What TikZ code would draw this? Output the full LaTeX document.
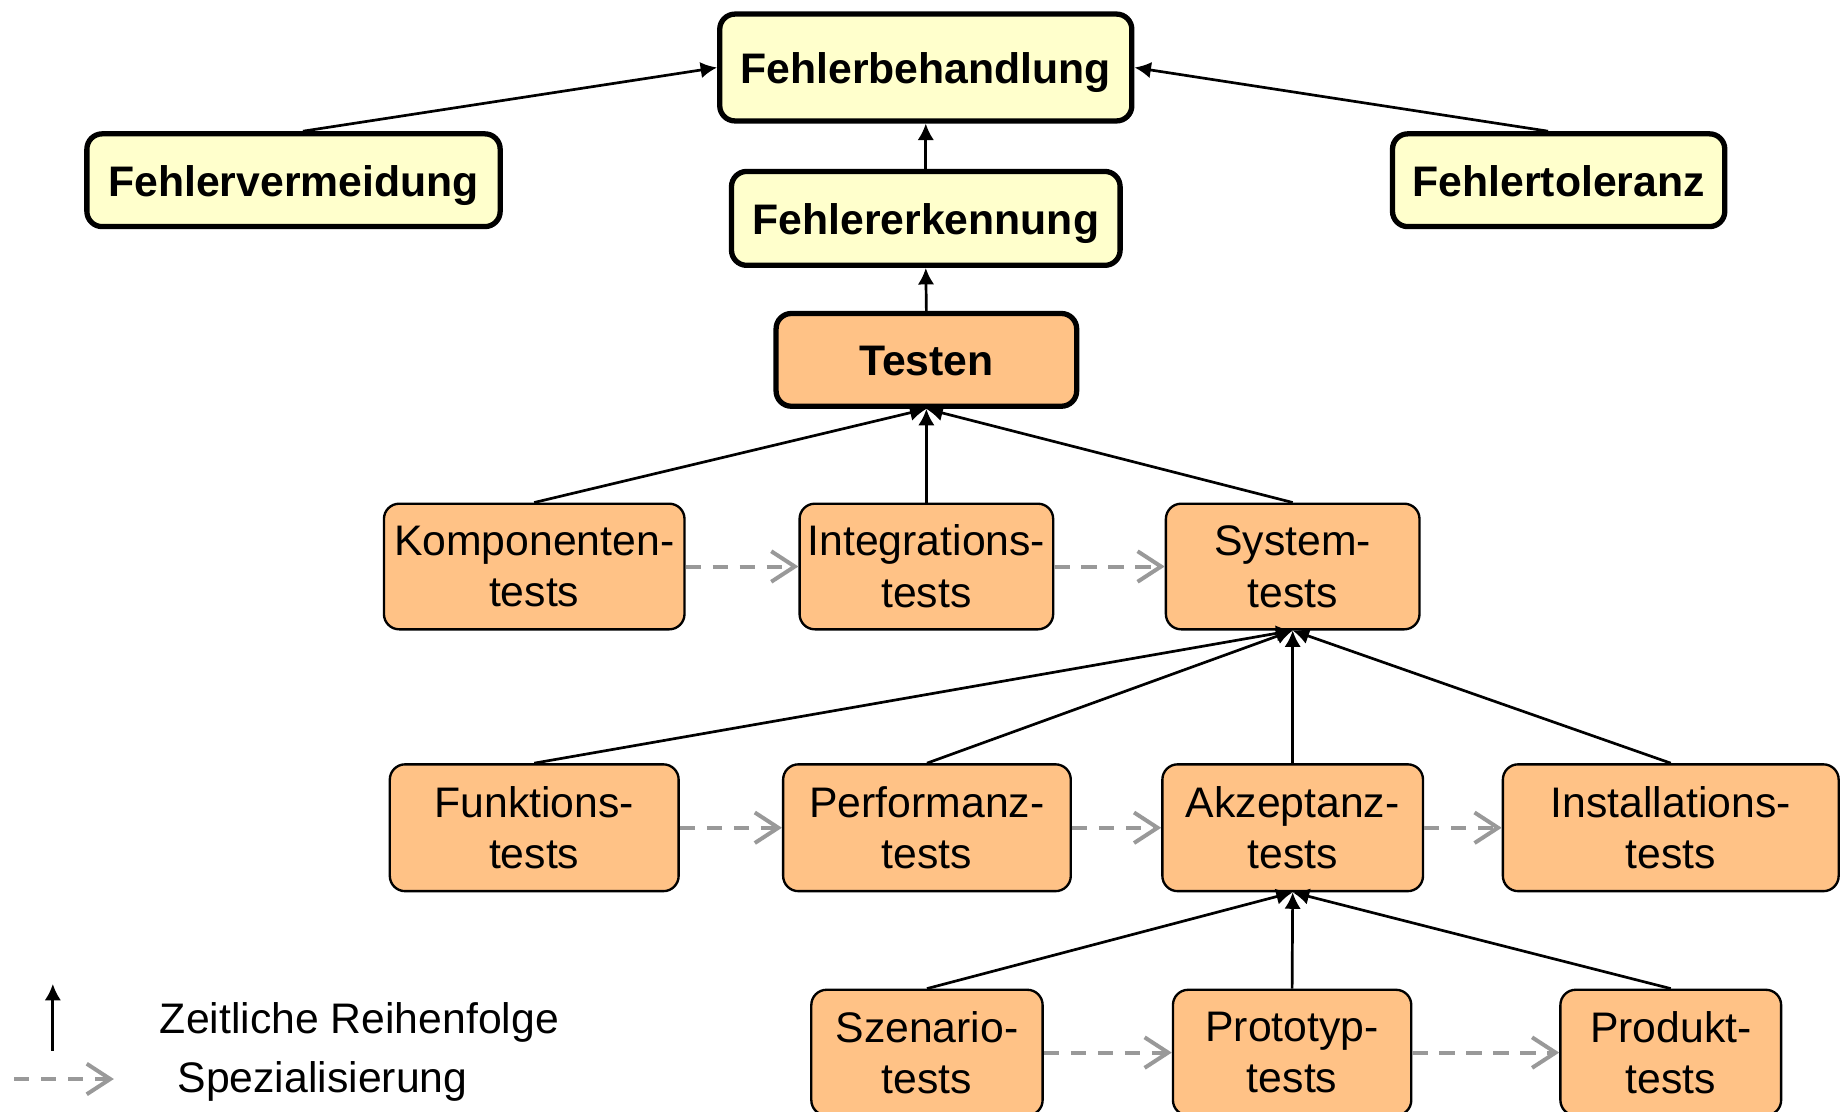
\documentclass[tikz,border=0pt]{standalone}
\usepackage{fontspec}
\setmainfont{Liberation Sans}
\usetikzlibrary{arrows.meta,calc}
\definecolor{boxyellow}{RGB}{255,255,204}
\definecolor{boxorange}{RGB}{255,194,134}
\definecolor{specgray}{RGB}{153,153,153}

\begin{document}
\begin{tikzpicture}[x=1pt,y=-1pt,
  box/.style={draw=black, rounded corners=13pt, inner sep=0pt, align=center,
    font=\fontsize{36.4}{44}\selectfont},
  topbox/.style={box, line width=4.5pt, fill=boxyellow, text height=27pt, text depth=0pt,
    font=\fontsize{36.4}{44}\selectfont\bfseries},
  testbox/.style={topbox, fill=boxorange},
  kindbox/.style={box, line width=2pt, fill=boxorange},
  order/.style={draw=black, line width=2.3pt, -{Latex[length=14pt,width=14pt]}},
  spec/.style={draw=specgray, line width=3.4pt, dash pattern=on 13pt off 10pt,
    -{Straight Barb[length=20pt,width=26pt,line width=3.4pt]}},
  legendtext/.style={anchor=west, inner sep=0pt, font=\fontsize{36.4}{44}\selectfont},
]
\useasboundingbox (0,0) rectangle (1568,947);

% upper level: error handling
\node[topbox, minimum width=351pt, minimum height=91pt] (fb) at (788.5,57.5) {Fehlerbehandlung};
\node[topbox, minimum width=331pt, minimum height=80pt] (fe) at (788.5,186) {Fehlererkennung};
\node[testbox, minimum width=256pt, minimum height=79pt] (test) at (789,306.5) {Testen};
\node[topbox, minimum width=352pt, minimum height=79pt] (fv) at (250,153.5) {Fehlervermeidung};
\node[topbox, minimum width=283pt, minimum height=79pt] (ft) at (1327.5,153.5) {Fehlertoleranz};

% test levels
\node[kindbox, minimum width=256pt, minimum height=107pt] (komp) at (455,482.5) {Komponenten-\\tests};
\node[kindbox, minimum width=216pt, minimum height=107pt] (integ) at (789,482.5) {Integrations-\\tests};
\node[kindbox, minimum width=216pt, minimum height=107pt] (sys) at (1101,482.5) {System-\\tests};

% kinds of system tests
\node[kindbox, minimum width=246pt, minimum height=108pt] (funk) at (455,705) {Funktions-\\tests};
\node[kindbox, minimum width=245pt, minimum height=108pt] (perf) at (789.5,705) {Performanz-\\tests};
\node[kindbox, minimum width=222pt, minimum height=108pt] (akz) at (1101,705) {Akzeptanz-\\tests};
\node[kindbox, minimum width=286pt, minimum height=108pt] (inst) at (1423,705) {Installations-\\tests};

% kinds of acceptance tests
\node[kindbox, minimum width=197pt, minimum height=107pt] (szen) at (789.5,896.5) {Szenario-\\tests};
\node[kindbox, minimum width=203pt, minimum height=107pt] (proto) at (1100.5,896.5) {Prototyp-\\tests};
\node[kindbox, minimum width=188pt, minimum height=107pt] (prod) at (1423,896.5) {Produkt-\\tests};

% temporal order
\draw[order] ([xshift=8pt]fv.north) -- (fb.west);
\draw[order] ([xshift=-9pt]ft.north) -- (fb.east);
\draw[order] (fe.north) -- (fb.south);
\draw[order] (test.north) -- (fe.south);
\draw[order] (komp.north) -- (test.south);
\draw[order] (integ.north) -- (test.south);
\draw[order] (sys.north) -- (test.south);
\draw[order] (funk.north) -- (sys.south);
\draw[order] (perf.north) -- (sys.south);
\draw[order] (akz.north) -- (sys.south);
\draw[order] (inst.north) -- (sys.south);
\draw[order] (szen.north) -- (akz.south);
\draw[order] (proto.north) -- (akz.south);
\draw[order] (prod.north) -- (akz.south);

% specialisation
\draw[spec] (komp.east) -- (integ.west);
\draw[spec] (integ.east) -- (sys.west);
\draw[spec] (funk.east) -- (perf.west);
\draw[spec] (perf.east) -- (akz.west);
\draw[spec] (akz.east) -- (inst.west);
\draw[spec] (szen.east) -- (proto.west);
\draw[spec] (proto.east) -- (prod.west);

% legend
\coordinate (lgA0) at (45,895);
\coordinate (lgA1) at (45,838);
\draw[order] (lgA0) -- (lgA1);
\node[legendtext] (lgAtext) at (136,871) {Zeitliche Reihenfolge};
\coordinate (lgB0) at (12,919);
\coordinate (lgB1) at (97,919);
\draw[spec] (lgB0) -- (lgB1);
\node[legendtext] (lgBtext) at (151,921) {Spezialisierung};
\end{tikzpicture}
\end{document}
